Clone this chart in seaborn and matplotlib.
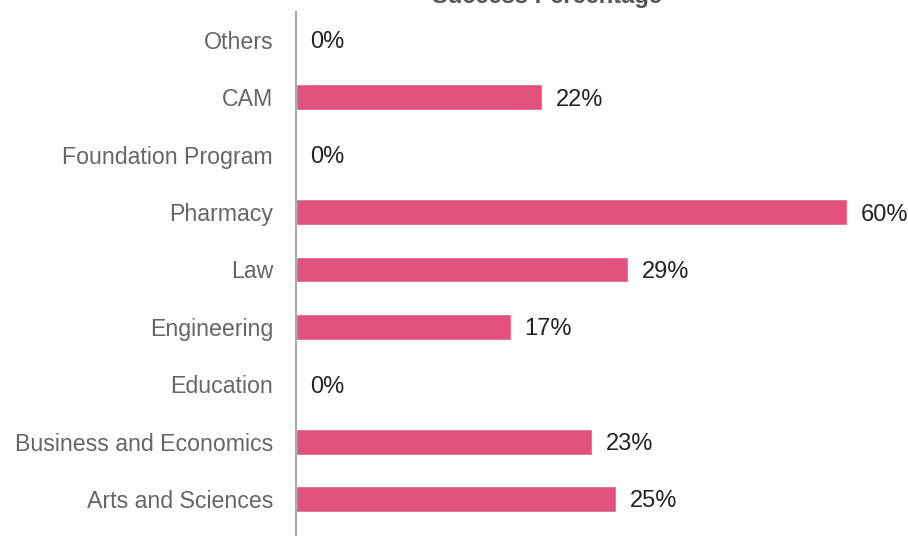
import numpy as np
import pandas as pd
import seaborn as sns
import matplotlib.pyplot as plt

sns.set_style('white')
plt.rcParams['font.family'] = ['Liberation Sans', 'DejaVu Sans']

# data (bottom to top)
colleges = ['Arts and Sciences', 'Business and Economics', 'Education', 'Engineering',
            'Law', 'Pharmacy', 'Foundation Program', 'CAM', 'Others']
bar_len = [34.9, 32.2, 0, 23.4, 36.2, 60, 0, 26.8, 0]   # drawn bar lengths
pct_labels = ['25%', '23%', '0%', '17%', '29%', '60%', '0%', '22%', '0%']

df = pd.DataFrame({'college': colleges, 'value': bar_len, 'label': pct_labels})
df = df.iloc[::-1].reset_index(drop=True)  # seaborn draws first row at top

W, H = 908, 536
fig = plt.figure(figsize=(W / 100, H / 100), dpi=100)
ax = fig.add_axes([296 / W, 0, 1 - 296 / W, 524 / H])

sns.barplot(data=df, x='value', y='college', orient='h', color='#E05180',
            width=0.45, saturation=1, ax=ax)

# label every bar
for i, row in df.iterrows():
    ax.annotate(row['label'], xy=(row['value'], i), xytext=(10, 0),
                textcoords='offset points', va='center_baseline', ha='left',
                fontsize=17, color='#222222')

ax.set_xlim(0, 612 / 9.18)
ax.set_ylim(8.645, -0.488)
ax.set_xlabel('')
ax.set_ylabel('')
ax.set_xticks([])
ax.tick_params(axis='y', length=0, pad=16.5, labelsize=16.7, labelcolor='#666666')
for lbl in ax.get_yticklabels():
    lbl.set_verticalalignment('center_baseline')
for s in ['top', 'right', 'bottom']:
    ax.spines[s].set_visible(False)
ax.spines['left'].set_color('#AAAAAA')
ax.spines['left'].set_linewidth(1.5)

fig.text(547 / W, 1 - 3 / H, 'Success Percentage', ha='center', va='baseline',
         fontsize=17, fontweight='bold', color='#555555')

fig.savefig('out.png', dpi=100)
